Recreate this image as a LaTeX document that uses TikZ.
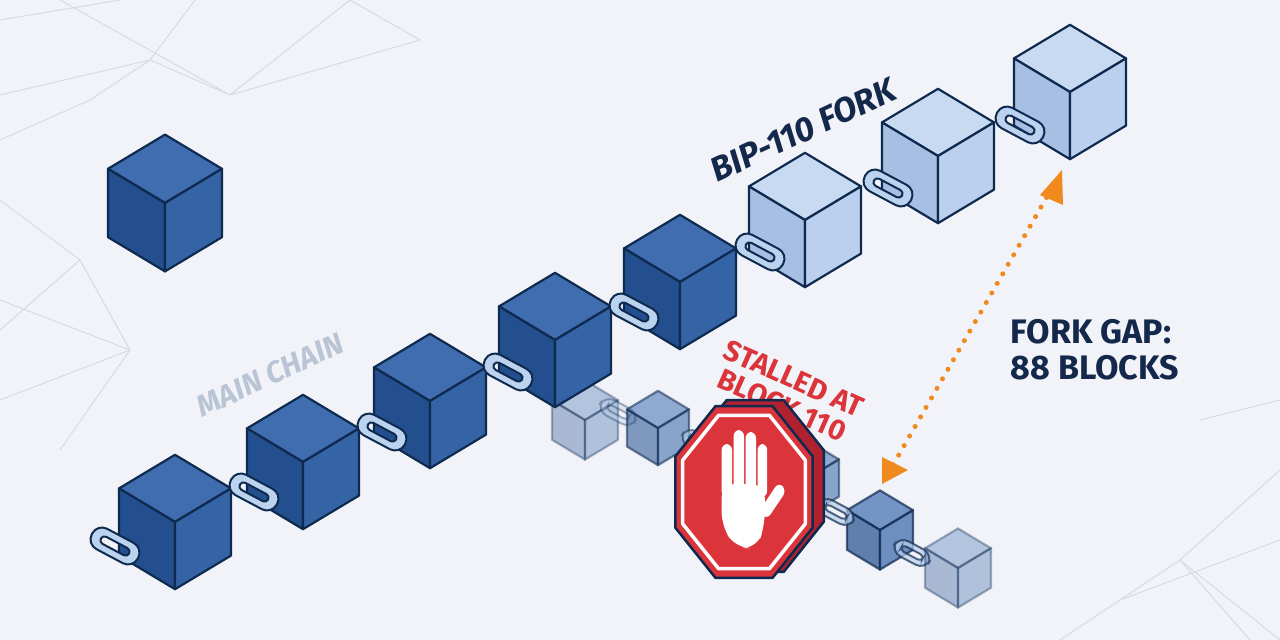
\documentclass[tikz,border=0pt]{standalone}
\usepackage{fontspec}
\setmainfont{Fira Sans}
\usetikzlibrary{calc}
\definecolor{bg}{HTML}{F1F3F8}
\definecolor{ol}{HTML}{0F2A4F}
\definecolor{dtop}{HTML}{3F6DB0}
\definecolor{dleft}{HTML}{234F8E}
\definecolor{dright}{HTML}{3564A6}
\definecolor{ltop}{HTML}{C8DAF1}
\definecolor{lleft}{HTML}{A6BFE3}
\definecolor{lright}{HTML}{BBD0EE}
\definecolor{linkc}{HTML}{BCD3F0}
\definecolor{navy}{HTML}{13284A}
\definecolor{sred}{HTML}{DC343B}
\definecolor{sdark}{HTML}{B02230}
\definecolor{orng}{HTML}{F08A1E}
\definecolor{bgl}{HTML}{D6DBE3}
\definecolor{mcg}{HTML}{B9C4D4}
\newcommand\mycube[6]{%
 \begin{scope}[shift={(#1,#2)},line join=round,draw=ol,line width=2.2pt]
  \filldraw[fill=#4] (0,0) -- (-#3,-0.6*#3) -- (0,-1.2*#3) -- (#3,-0.6*#3) -- cycle;
  \filldraw[fill=#5] (0,0) -- (-#3,-0.6*#3) -- (-#3,0.6*#3) -- (0,1.2*#3) -- cycle;
  \filldraw[fill=#6] (0,0) -- (#3,-0.6*#3) -- (#3,0.6*#3) -- (0,1.2*#3) -- cycle;
 \end{scope}}
\newcommand\mylink[3]{%
 \begin{scope}[shift={(#1,#2)},rotate=-28,scale=#3]
  \filldraw[draw=ol,fill=linkc,line width=2pt,even odd rule]
   [rounded corners=11pt] (-26,-11.5) rectangle (26,11.5)
   [rounded corners=4pt] (-16,-4) rectangle (16,4);
 \end{scope}}
\begin{document}
\begin{tikzpicture}[x=1pt,y=-1pt]
\fill[bg] (0,0) rectangle (1280,640);
\useasboundingbox (0,0) rectangle (1280,640);
\begin{scope}[draw=bgl,line width=1pt]
\draw (0,20) -- (120,0) (60,0) -- (230,95) -- (350,0) (0,95) -- (150,60) -- (230,95) (150,60) -- (195,0)
      (230,95) -- (420,40) (420,40) -- (350,0) (0,140) -- (90,100) -- (150,60);
\draw (0,200) -- (80,260) -- (0,330) (80,260) -- (130,350) -- (0,400) (130,350) -- (60,450) (0,300) -- (130,350);
\draw (1280,470) -- (1180,560) -- (1280,640) (1180,560) -- (1060,640) (1180,560) -- (1250,640) (1280,540) -- (1120,600) (1200,420)--(1280,400);
\end{scope}
% faded stalled chain
\begin{scope}[opacity=0.35]
\mycube{585}{420}{33}{dtop}{dleft}{dright}
\mylink{618}{412}{0.75}
\end{scope}
\begin{scope}[opacity=0.55]
\mycube{658}{428}{31}{dtop}{dleft}{dright}
\mylink{700}{443}{0.75}
\mycube{808}{478}{31}{dtop}{dleft}{dright}
\end{scope}
\begin{scope}[opacity=0.7]
\mycube{880}{530}{33}{dtop}{dleft}{dright}
\mylink{836}{512}{0.75}
\mylink{912}{553}{0.75}
\end{scope}
\begin{scope}[opacity=0.35]
\mycube{958}{568}{33}{dtop}{dleft}{dright}
\end{scope}
% main chain cubes
\foreach \x/\y in {175/522,303/462,430/401,555/340,680/282}{\mycube{\x}{\y}{56}{dtop}{dleft}{dright}}
\foreach \x/\y in {805/220,938/156,1070/92}{\mycube{\x}{\y}{56}{ltop}{lleft}{lright}}
% links
\foreach \x/\y in {115/546,254/492,382/432,508/372,634/312,760/252,888/188,1020/125}{\mylink{\x}{\y}{1}}
% standalone cube
\mycube{165}{203}{57}{dtop}{dleft}{dright}
% texts
\node[navy,font=\bfseries\itshape\fontsize{34}{34}\selectfont,rotate=25] (bip) at (803,130) {BIP-110 FORK};
\node[mcg,font=\bfseries\itshape\fontsize{30}{30}\selectfont,rotate=25] (mc) at (270,375) {MAIN CHAIN};
\node[sred,font=\bfseries\fontsize{29}{29}\selectfont,rotate=-24,align=center] (st) at (788,392) {STALLED AT\\BLOCK 110};
\node[navy,font=\bfseries\fontsize{34}{36}\selectfont,align=left] (gap) at (1095,350) {FORK GAP:\\88 BLOCKS};
% stop sign
\begin{scope}[shift={(744,492)},xscale=0.8]
 \filldraw[fill=sdark,draw=ol,line width=2.5pt,line join=round,shift={(14,-6)}] (22.5:93) \foreach \a in {67.5,112.5,...,337.5}{ -- (\a:93)} -- cycle;
 \filldraw[fill=sred,draw=ol,line width=2.5pt,line join=round] (22.5:93) \foreach \a in {67.5,112.5,...,337.5}{ -- (\a:93)} -- cycle;
 \draw[white,line width=3.5pt,line join=round] (22.5:83) \foreach \a in {67.5,112.5,...,337.5}{ -- (\a:83)} -- cycle;
 \begin{scope}[fill=white]
  \fill[rounded corners=14pt] (-28,-8) -- (-28,34) -- (-10,56) -- (16,56) -- (26,34) -- (26,-8) -- cycle;
  \fill[rounded corners=6pt] (-28,-48) rectangle (-15,5);
  \fill[rounded corners=6pt] (-13,-62) rectangle (0,0);
  \fill[rounded corners=6pt] (2,-60) rectangle (15,0);
  \fill[rounded corners=6pt] (17,-48) rectangle (29,5);
  \fill[rotate around={-40:(26,20)},rounded corners=6pt] (20,-14) rectangle (33,24);
 \end{scope}
\end{scope}
% fork gap arrow
\coordinate (a1) at (1052,188);
\coordinate (a2) at (893,465);
\draw[orng,line width=5pt,line cap=round,dash pattern=on 0pt off 11pt] (a1) -- (a2);
\fill[orng] (1062,170) -- (1040,195) -- (1063,205) -- cycle;
\fill[orng] (882,457) -- (882,484) -- (908,470) -- cycle;
\end{tikzpicture}
\end{document}
